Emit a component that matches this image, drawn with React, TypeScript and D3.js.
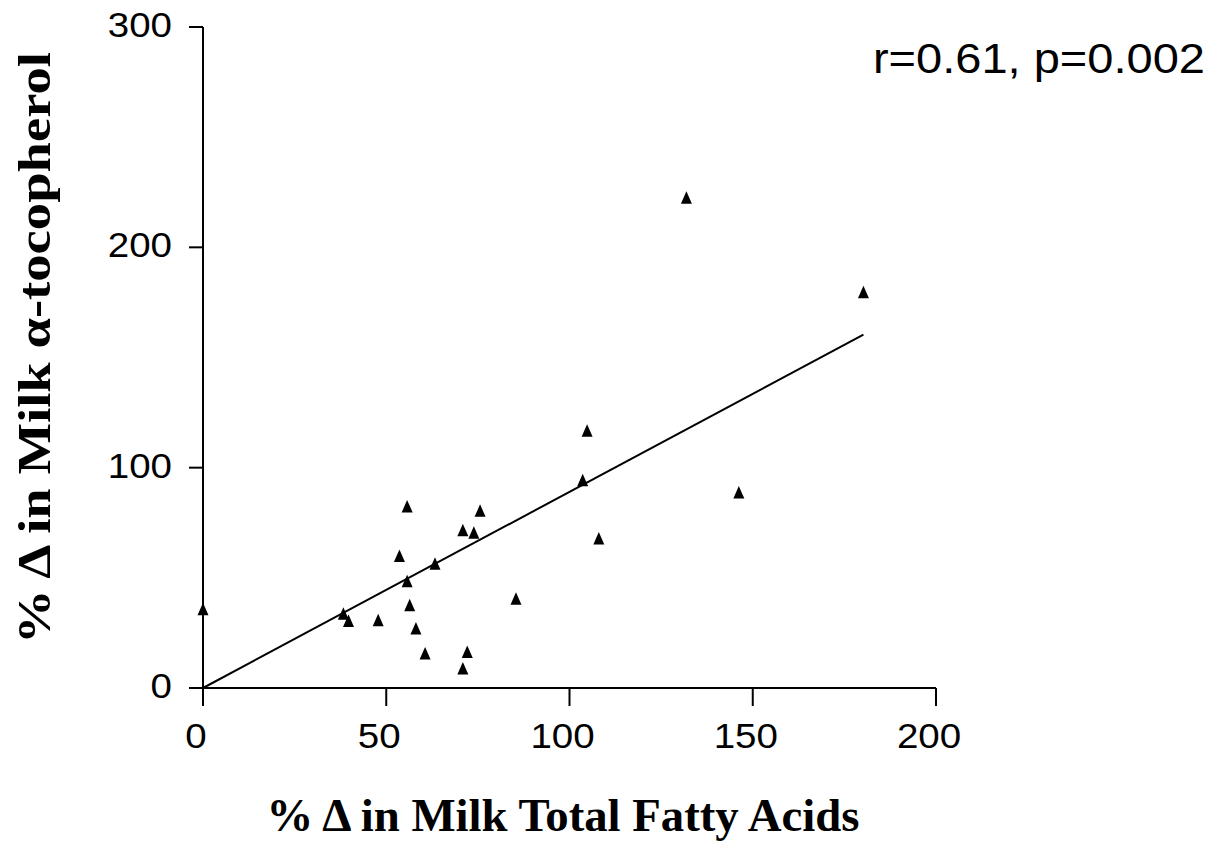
import React, { useEffect, useRef } from "react";
import * as d3 from "d3";

const fatPct = [0, 38.3, 39.7, 47.8, 53.6, 55.7, 55.7, 56.4, 58.1, 60.6, 63.3, 70.9, 73.9, 75.6, 72.1, 70.9, 85.4, 103.6, 104.8, 108, 131.9, 146.2, 180.2];
const tocoPct = [35.7, 33.7, 30.4, 30.8, 59.9, 82.4, 48.5, 37.6, 27, 15.7, 56.4, 71.6, 70.5, 80.4, 16.3, 8.9, 40.5, 94.3, 116.7, 67.8, 222.5, 88.7, 179.6];
const fitX = [0, 180.2];
const fitY = [0, 160.4];
const xTicks = [0, 50, 100, 150, 200];
const yTicks = [0, 100, 200, 300];
const statText = "r=0.61, p=0.002";
const xTitle = "% \u0394 in Milk Total Fatty Acids";
const yTitle = "% \u0394 in Milk \u03b1-tocopherol";

const W = 1222;
const H = 845;

export default function App() {
  const ref = useRef<SVGSVGElement | null>(null);
  useEffect(() => {
    const svg = d3.select(ref.current);
    svg.selectAll("*").remove();
    const x = d3.scaleLinear().domain([0, 200]).range([203, 936]);
    const y = d3.scaleLinear().domain([0, 300]).range([688, 27]);
    const sans = "'Liberation Sans', Arial, sans-serif";
    const serif = "'Liberation Serif', 'Times New Roman', serif";

    // axes
    const ax = svg.append("g").attr("stroke", "#000").attr("stroke-width", 2).attr("fill", "none");
    ax.append("line").attr("x1", x(0)).attr("x2", x(200)).attr("y1", y(0)).attr("y2", y(0));
    ax.append("line").attr("x1", x(0)).attr("x2", x(0)).attr("y1", y(0)).attr("y2", y(300));
    xTicks.forEach((t) => {
      ax.append("line").attr("x1", x(t)).attr("x2", x(t)).attr("y1", y(0)).attr("y2", y(0) + 18);
    });
    yTicks.forEach((t) => {
      ax.append("line").attr("x1", x(0) - 14).attr("x2", x(0)).attr("y1", y(t)).attr("y2", y(t));
    });

    svg.append("g").selectAll("text").data(xTicks).join("text")
      .attr("transform", (d) => `translate(${x(d) - 7},${y(0) + 60}) scale(1.1,1)`)
      .attr("text-anchor", "middle").attr("font-family", sans).attr("font-size", 35)
      .text((d) => String(d));
    svg.append("g").selectAll("text").data(yTicks).join("text")
      .attr("transform", (d) => `translate(${x(0) - 31},${y(d) + 10}) scale(1.1,1)`)
      .attr("text-anchor", "end").attr("font-family", sans).attr("font-size", 35)
      .text((d) => String(d));

    // regression line
    const line = d3.line<number>().x((d) => x(fitX[d])).y((d) => y(fitY[d]));
    svg.append("path").attr("d", line([0, 1])).attr("stroke", "#000").attr("stroke-width", 2).attr("fill", "none");

    // points (triangles)
    const tri = "M0,-6.5L5.5,6L-5.5,6Z";
    svg.append("g").selectAll("path").data(fatPct.map((v, i) => [v, tocoPct[i]])).join("path")
      .attr("transform", (d) => `translate(${x(d[0])},${y(d[1])})`)
      .attr("d", tri).attr("fill", "#000");

    svg.append("text").attr("transform", "translate(1205,73) scale(1.12,1)").attr("text-anchor", "end")
      .attr("font-family", sans).attr("font-size", 42).text(statText);

    svg.append("text").attr("x", 563).attr("y", 831).attr("text-anchor", "middle")
      .attr("textLength", 593).attr("lengthAdjust", "spacingAndGlyphs")
      .attr("font-family", serif).attr("font-weight", "bold").attr("font-size", 46).text(xTitle);

    svg.append("text").attr("transform", "translate(50,348) rotate(-90)").attr("text-anchor", "middle")
      .attr("textLength", 592).attr("lengthAdjust", "spacingAndGlyphs")
      .attr("font-family", serif).attr("font-weight", "bold").attr("font-size", 46).text(yTitle);
  }, []);
  return (
    <div style={{ position: "absolute", left: 0, top: 0 }}>
      <svg ref={ref} width={W} height={H} style={{ display: "block", background: "#fff" }} />
    </div>
  );
}
